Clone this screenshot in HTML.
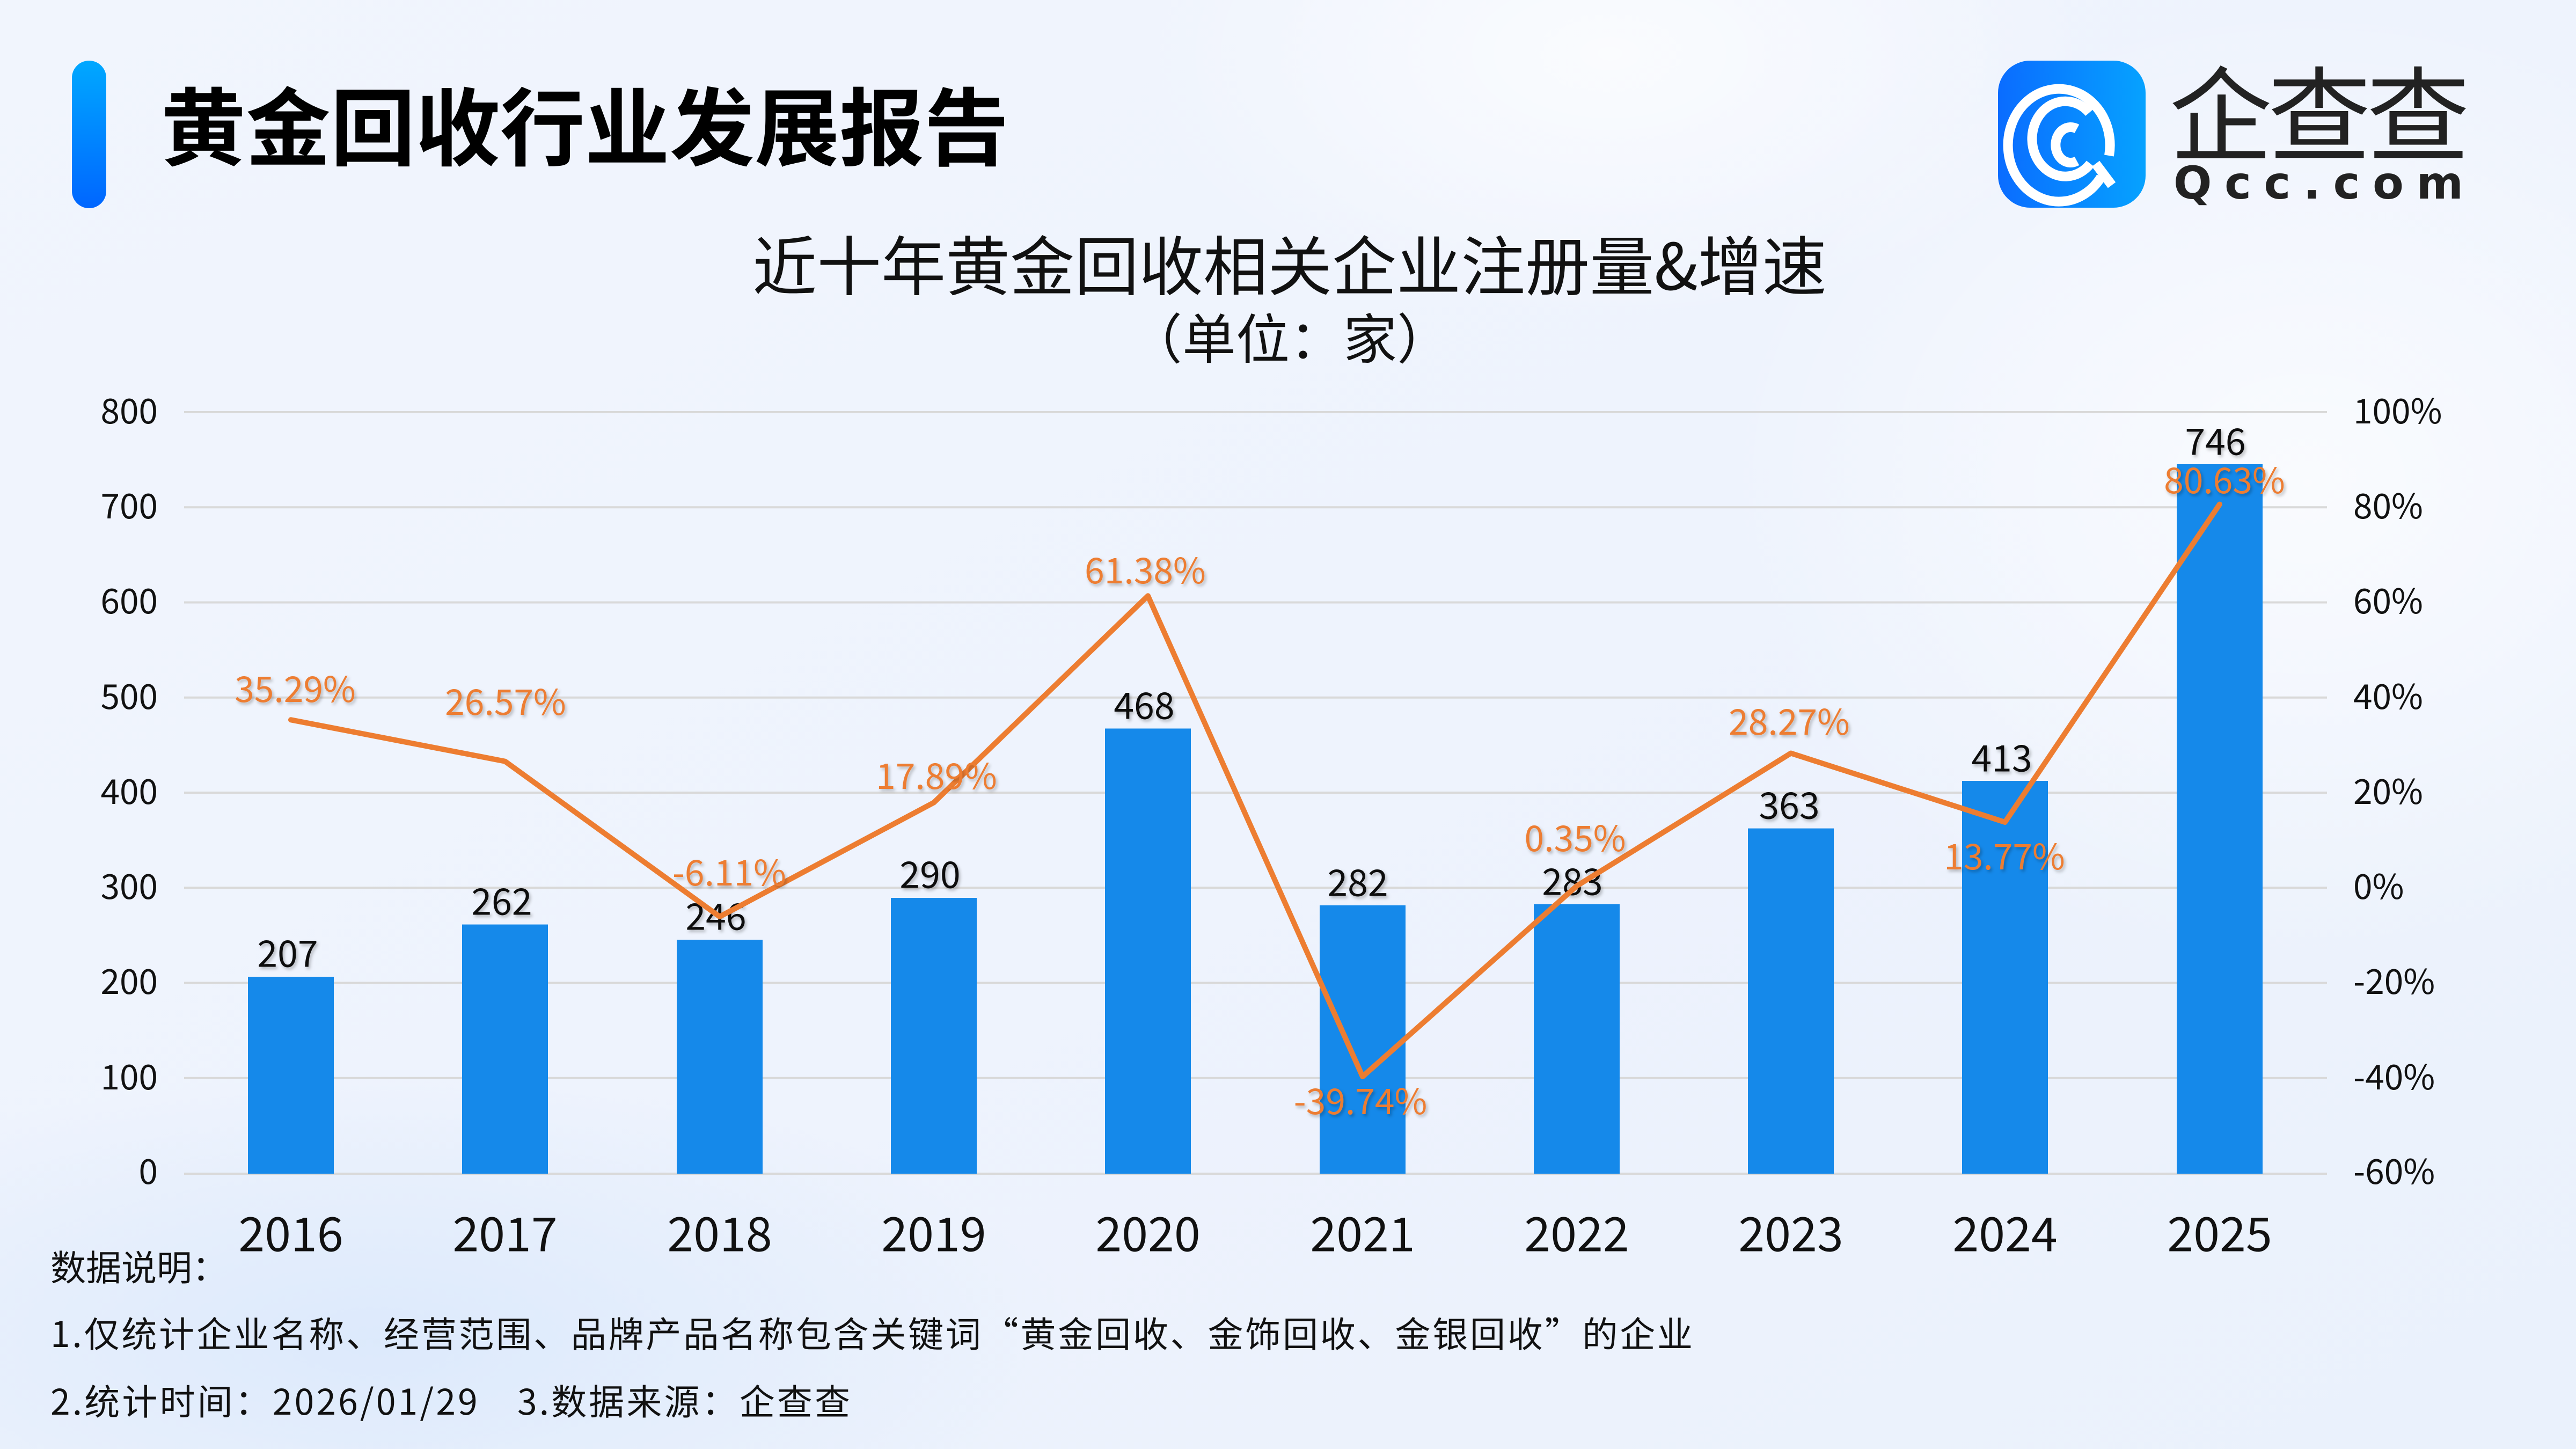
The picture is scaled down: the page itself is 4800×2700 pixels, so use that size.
<!DOCTYPE html>
<html><head><meta charset="utf-8">
<style>
html,body{margin:0;padding:0;}
body{width:4800px;height:2700px;overflow:hidden;background:#eef3fd;}
svg{display:block;}
svg text{font-family:"Noto Sans CJK SC","Liberation Sans",sans-serif;}
.cjk{font-family:"Noto Sans CJK SC",sans-serif !important;}
</style></head>
<body>
<svg width="4800" height="2700" viewBox="0 0 4800 2700" xmlns="http://www.w3.org/2000/svg">
<defs>
<linearGradient id="bg" x1="0" y1="0" x2="1" y2="1">
<stop offset="0" stop-color="#f1f5fd"/><stop offset="0.5" stop-color="#eef3fd"/><stop offset="1" stop-color="#eaf1fc"/>
</linearGradient>
<radialGradient id="blob" cx="0.5" cy="0.5" r="0.5"><stop offset="0" stop-color="#ffffff" stop-opacity="0.7"/><stop offset="1" stop-color="#ffffff" stop-opacity="0"/></radialGradient>
<radialGradient id="blob2" cx="0.5" cy="0.5" r="0.5"><stop offset="0" stop-color="#d8e7fb" stop-opacity="0.8"/><stop offset="1" stop-color="#d8e7fb" stop-opacity="0"/></radialGradient>
<linearGradient id="vbar" x1="0" y1="0" x2="0" y2="1"><stop offset="0" stop-color="#00a8ff"/><stop offset="1" stop-color="#0066ff"/></linearGradient>
<linearGradient id="icon" x1="0" y1="0" x2="1" y2="0"><stop offset="0" stop-color="#0a6cff"/><stop offset="1" stop-color="#06a2ff"/></linearGradient>
<filter id="sh" x="-20%" y="-20%" width="140%" height="140%"><feDropShadow dx="3" dy="4" stdDeviation="3" flood-color="#000" flood-opacity="0.25"/></filter>
</defs>
<rect width="4800" height="2700" fill="url(#bg)"/>
<ellipse cx="4300" cy="900" rx="1100" ry="900" fill="url(#blob)"/>
<ellipse cx="3000" cy="100" rx="900" ry="500" fill="url(#blob)"/>
<ellipse cx="700" cy="2500" rx="1300" ry="500" fill="url(#blob2)"/>

<!-- header -->
<rect x="134" y="113" width="64" height="275" rx="32" fill="url(#vbar)"/>
<text x="300" y="296" class="cjk" font-size="158" font-weight="bold" fill="#000">黄金回收行业发展报告</text>

<!-- logo -->
<rect x="3723" y="113" width="275" height="274" rx="60" fill="url(#icon)"/>
<g fill="none" stroke="#fff" stroke-width="18" stroke-linecap="butt">
<path d="M3915 330 A95 105 0 1 1 3930 290"/>
<path d="M3893 210 A62 70 0 1 0 3895 305"/>
<path d="M3870 240 A28 33 0 1 0 3870 300"/>
<path d="M3905 305 L3935 345"/>
</g>
<text x="4042" y="285" class="cjk" font-size="192" fill="#222" textLength="560">企查查</text>
<text x="4050" y="370" font-size="84" font-weight="bold" fill="#222" textLength="540" lengthAdjust="spacing" style="font-family:'DejaVu Sans',sans-serif">Qcc.com</text>

<!-- chart titles -->
<text x="2403" y="540" text-anchor="middle" class="cjk" font-size="120" fill="#111">近十年黄金回收相关企业注册量&amp;增速</text>
<text x="2403" y="668" text-anchor="middle" class="cjk" font-size="100" fill="#111">（单位：家）</text>

<!-- gridlines -->
<g stroke="#d9d9d9" stroke-width="4">
<line x1="343" x2="4336" y1="768" y2="768"/>
<line x1="343" x2="4336" y1="945.3" y2="945.3"/>
<line x1="343" x2="4336" y1="1122.5" y2="1122.5"/>
<line x1="343" x2="4336" y1="1299.8" y2="1299.8"/>
<line x1="343" x2="4336" y1="1477" y2="1477"/>
<line x1="343" x2="4336" y1="1654.3" y2="1654.3"/>
<line x1="343" x2="4336" y1="1831.5" y2="1831.5"/>
<line x1="343" x2="4336" y1="2008.8" y2="2008.8"/>
<line x1="343" x2="4336" y1="2187" y2="2187"/>
</g>

<!-- left axis -->
<g font-size="64" fill="#111" text-anchor="end" dominant-baseline="central" transform="translate(0,-6)">
<text x="294" y="768">800</text><text x="294" y="945">700</text><text x="294" y="1122">600</text>
<text x="294" y="1300">500</text><text x="294" y="1477">400</text><text x="294" y="1654">300</text>
<text x="294" y="1831">200</text><text x="294" y="2009">100</text><text x="294" y="2185">0</text>
</g>
<!-- right axis -->
<g font-size="64" fill="#111" dominant-baseline="central" transform="translate(0,-6)">
<text x="4385" y="768">100%</text><text x="4385" y="945">80%</text><text x="4385" y="1122">60%</text>
<text x="4385" y="1300">40%</text><text x="4385" y="1477">20%</text><text x="4385" y="1654">0%</text>
<text x="4385" y="1831">-20%</text><text x="4385" y="2009">-40%</text><text x="4385" y="2185">-60%</text>
</g>

<!-- bars -->
<g fill="#1589ea">
<rect x="462" y="1820" width="160" height="367"/>
<rect x="861" y="1722.6" width="160" height="464.4"/>
<rect x="1261" y="1751" width="160" height="436"/>
<rect x="1660" y="1673" width="160" height="514"/>
<rect x="2059" y="1357.5" width="160" height="829.5"/>
<rect x="2459" y="1687" width="160" height="500"/>
<rect x="2858" y="1685" width="160" height="502"/>
<rect x="3257" y="1543.6" width="160" height="643.4"/>
<rect x="3656" y="1455" width="160" height="732"/>
<rect x="4056" y="865" width="160" height="1322"/>
</g>

<!-- bar labels -->
<g font-size="68" fill="#111" text-anchor="middle" dominant-baseline="central" filter="url(#sh)" transform="translate(0,-6)">
<text x="536" y="1778">207</text>
<text x="935" y="1681">262</text>
<text x="1334" y="1709">246</text>
<text x="1733" y="1631">290</text>
<text x="2132" y="1316">468</text>
<text x="2530" y="1646">282</text>
<text x="2930" y="1644">283</text>
<text x="3334" y="1502">363</text>
<text x="3730" y="1414">413</text>
<text x="4128" y="824">746</text>
</g>

<!-- line -->
<polyline fill="none" stroke="#ed7d31" stroke-width="10" stroke-linejoin="round" stroke-linecap="round"
points="542,1341.3 941,1418.6 1341,1708.1 1740,1495.5 2139,1110.2 2539,2006.1 2938,1650.9 3337,1403.5 3736,1532 4136,939.6"/>

<!-- pct labels -->
<g font-size="66" fill="#ed7d31" text-anchor="middle" dominant-baseline="central" filter="url(#sh)" transform="translate(0,-6)">
<text x="550" y="1286">35.29%</text>
<text x="942" y="1310">26.57%</text>
<text x="1359" y="1628">-6.11%</text>
<text x="1745" y="1448">17.89%</text>
<text x="2134" y="1065">61.38%</text>
<text x="2535" y="2054">-39.74%</text>
<text x="2935" y="1564">0.35%</text>
<text x="3334" y="1347">28.27%</text>
<text x="3735" y="1598">13.77%</text>
<text x="4145" y="897">80.63%</text>
</g>

<!-- years -->
<g font-size="88" fill="#111" text-anchor="middle" dominant-baseline="central" transform="translate(0,-6)">
<text x="542" y="2300">2016</text><text x="941" y="2300">2017</text><text x="1341" y="2300">2018</text>
<text x="1740" y="2300">2019</text><text x="2139" y="2300">2020</text><text x="2539" y="2300">2021</text>
<text x="2938" y="2300">2022</text><text x="3337" y="2300">2023</text><text x="3736" y="2300">2024</text>
<text x="4136" y="2300">2025</text>
</g>

<!-- notes -->
<g font-size="66" fill="#111" dominant-baseline="central">
<text x="94" y="2358" class="cjk">数据说明：</text>
<text x="94" y="2482" class="cjk" textLength="3060">1.仅统计企业名称、经营范围、品牌产品名称包含关键词“黄金回收、金饰回收、金银回收”的企业</text>
<text x="94" y="2608" class="cjk" textLength="1490">2.统计时间：2026/01/29　3.数据来源：企查查</text>
</g>
</svg>
</body></html>
